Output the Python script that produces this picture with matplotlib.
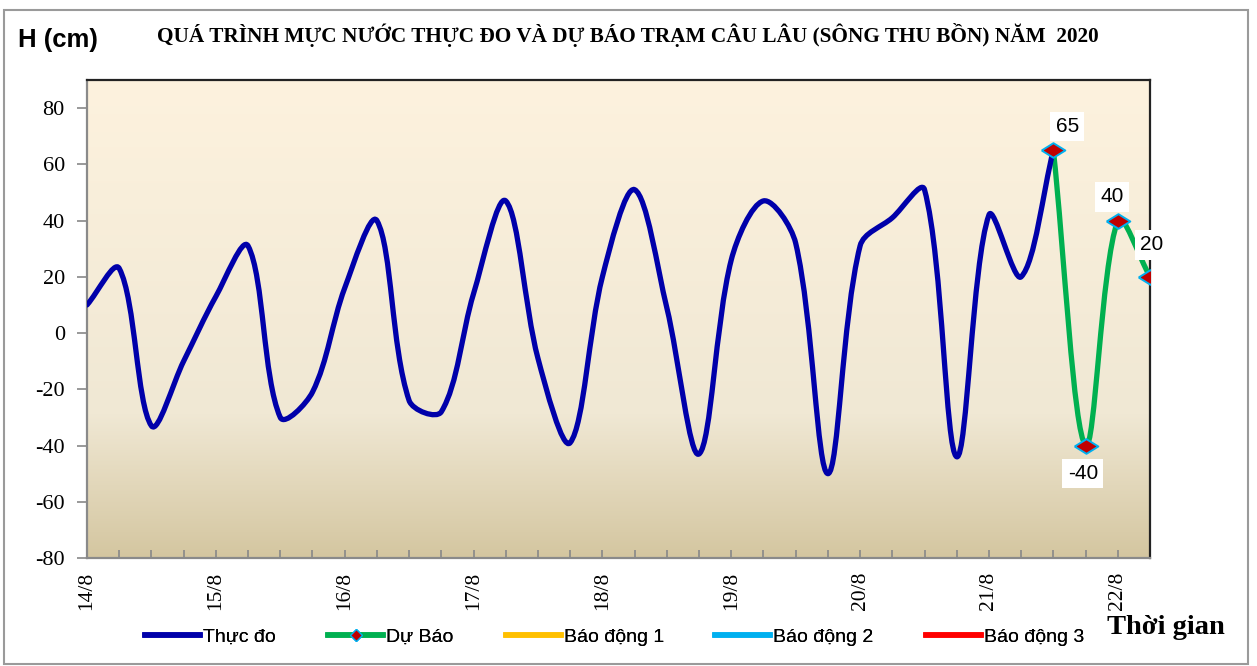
import numpy as np
import matplotlib
matplotlib.use('Agg')
import matplotlib.pyplot as plt
from matplotlib.path import Path
from matplotlib.patches import PathPatch, Rectangle
from matplotlib.lines import Line2D
from matplotlib.colors import LinearSegmentedColormap

plt.rcParams['axes.unicode_minus'] = False
SERIF = ['Liberation Serif', 'DejaVu Serif']
SANS = ['Liberation Sans', 'DejaVu Sans']

# 6-hourly water level, cm (index 0 = 14/8 00h)
day_labels = ['14/8', '15/8', '16/8', '17/8', '18/8', '19/8', '20/8', '21/8', '22/8']
observed = [10, 23, -33, -10, 13, 31, -30, -21, 16, 40, -24, -28, 14, 47, -9, -39,
            20, 51, 9, -43, 26, 47, 32, -50, 31, 41, 51, -44, 42, 20, 65]
forecast = [65, -40, 40, 20]
forecast_start = 30
n_steps = 34

legend_names = ['Thực đo', 'Dự Báo', 'Báo động 1', 'Báo động 2', 'Báo động 3']
legend_colors = ['#0000AA', '#00B050', '#FFC000', '#00B0F0', '#FF0000']


def smooth_path(ax, xs, ys):
    # Excel-like smoothed line: bezier arms scaled by on-screen chord lengths
    pts = np.column_stack([xs, ys]).astype(float)
    scr = ax.transData.transform(pts)
    n = len(pts)
    verts = [pts[0]]
    codes = [Path.MOVETO]
    for i in range(n - 1):
        i0 = max(i - 1, 0)
        i3 = min(i + 2, n - 1)
        d01 = np.hypot(*(scr[i] - scr[i0]))
        d12 = np.hypot(*(scr[i + 1] - scr[i]))
        d23 = np.hypot(*(scr[i3] - scr[i + 1]))
        f1 = d12 / (d01 + d12) / 3
        f2 = d12 / (d12 + d23) / 3
        c1 = pts[i] + (pts[i + 1] - pts[i0]) * f1
        c2 = pts[i + 1] - (pts[i3] - pts[i]) * f2
        verts += [c1, c2, pts[i + 1]]
        codes += [Path.CURVE4] * 3
    return Path(verts, codes)


fig = plt.figure(figsize=(12.57, 6.66), dpi=100)
fig.patches.append(Rectangle((4 / 1257, 2 / 666), 1244 / 1257, 654 / 666,
                             transform=fig.transFigure, fill=False,
                             edgecolor='#9a9a9a', lw=1.5))

ax = fig.add_axes([87 / 1257, 1 - 558 / 666, (1150 - 87) / 1257, (558 - 80) / 666])
ax.set_xlim(0, n_steps - 1)
ax.set_ylim(-80, 90)

# background gradient
cmap = LinearSegmentedColormap.from_list(
    'bg', [(0, '#FDF2DE'), (0.7, '#F0E8D4'), (1, '#D4C6A0')])
grad = np.linspace(0, 1, 256).reshape(-1, 1)
ax.imshow(grad, cmap=cmap, aspect='auto', extent=[0, 1, 0, 1],
          transform=ax.transAxes, zorder=0)

x_obs = np.arange(len(observed))
x_fc = np.arange(forecast_start, forecast_start + len(forecast))

ax.add_patch(PathPatch(smooth_path(ax, x_fc, forecast), facecolor='none',
                       edgecolor=legend_colors[1], lw=3.8, capstyle='round',
                       joinstyle='round', zorder=3))
ax.add_patch(PathPatch(smooth_path(ax, x_obs, observed), facecolor='none',
                       edgecolor=legend_colors[0], lw=3.8, capstyle='round',
                       joinstyle='round', zorder=4))

diamond = [(-1, 0), (0, 0.62), (1, 0), (0, -0.62), (-1, 0)]
ax.plot(x_fc, forecast, linestyle='none', marker=diamond, ms=17,
        mfc='#C00000', mec='#00B0F0', mew=1.4, zorder=5)

label_offsets = [(10, 17), (-2, -20), (-4, 17), (1, 23)]
for x, y, (dx, dy) in zip(x_fc, forecast, label_offsets):
    ax.annotate(str(y), (x, y), xytext=(dx, dy), textcoords='offset points',
                ha='center', va='center', fontsize=15, family=SANS,
                bbox=dict(boxstyle='square,pad=0.25', fc='white', ec='none'),
                zorder=6, annotation_clip=False)

ax.set_yticks(range(-80, 81, 20))
ax.set_xticks(range(0, n_steps, 4))
ax.set_xticklabels(day_labels, rotation=90, family=SERIF, fontsize=15.5)
ax.set_xticks(range(n_steps), minor=True)
for lab in ax.get_yticklabels():
    lab.set_family(SERIF)
ax.tick_params(axis='y', direction='out', length=7, width=1.2, color='#888888',
               labelsize=16, pad=9)
ax.tick_params(axis='x', which='both', direction='in', length=6, width=1.2,
               color='#888888', pad=10)

for side in ['left', 'bottom']:
    ax.spines[side].set_color('#8a8a8a')
    ax.spines[side].set_linewidth(1.6)
for side in ['top', 'right']:
    ax.spines[side].set_color('#222222')
    ax.spines[side].set_linewidth(1.6)

fig.text(628 / 1257, 1 - 35 / 666,
         'QUÁ TRÌNH MỰC NƯỚC THỰC ĐO VÀ DỰ BÁO TRẠM CÂU LÂU (SÔNG THU BỒN) NĂM  2020',
         ha='center', va='center', fontsize=15.3, fontweight='bold', family=SERIF)
fig.text(18 / 1257, 1 - 40 / 666, 'H (cm)', ha='left', va='center',
         fontsize=18.5, fontweight='bold', family=SANS)
fig.text(1107 / 1257, 1 - 628 / 666, 'Thời gian', ha='left', va='center',
         fontsize=20.5, fontweight='bold', family=SERIF)

handles = [Line2D([], [], color=c, lw=4) for c in legend_colors]
handles[1] = Line2D([], [], color=legend_colors[1], lw=4, marker='D', ms=6,
                    mfc='#C00000', mec='#00B0F0', mew=1)
legend_x = [145, 328, 506, 715, 926]
for h, name, lx in zip(handles, legend_names, legend_x):
    fig.add_artist(fig.legend([h], [name], loc='center left',
                              bbox_to_anchor=(lx / 1257, 1 - 637 / 666),
                              frameon=False, prop={'family': SANS, 'size': 14},
                              handlelength=2.85, handletextpad=0.15,
                              borderpad=0, borderaxespad=0))

fig.savefig('out.png', dpi=100)
